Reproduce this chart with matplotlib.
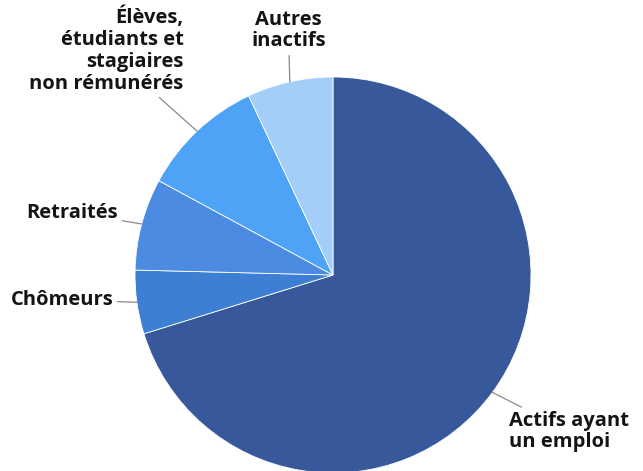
import numpy as np
import matplotlib.pyplot as plt

# shares (%), clockwise from 12 o'clock
labels = ['Actifs ayant\nun emploi', 'Chômeurs', 'Retraités',
          'Élèves,\nétudiants et\nstagiaires\nnon rémunérés', 'Autres\ninactifs']
shares = [70.2, 5.2, 7.5, 10.1, 7.0]
colors = ['#37599b', '#3d7fd3', '#4b8be2', '#4fa3f6', '#a2cef8']

# where each label sits (axes data units, pie radius = 1) and its alignment
label_pos = [(0.89, -0.79), (-1.11, -0.125), (-1.085, 0.315), (-0.755, 1.135), (-0.225, 1.235)]
label_ha = ['left', 'right', 'right', 'right', 'center']

plt.rcParams['font.family'] = ['Open Sans', 'DejaVu Sans']

fig = plt.figure(figsize=(6.43, 4.71), dpi=100)
ax = fig.add_axes([135 / 643, -2 / 471, 396 / 643, 396 / 471])

wedges, _ = ax.pie(shares, colors=colors, startangle=90, counterclock=False,
                   wedgeprops=dict(edgecolor='white', linewidth=0.6))
ax.set_xlim(-1, 1)
ax.set_ylim(-1, 1)
ax.set_aspect('equal')
ax.axis('off')

for w, lab, pos, ha in zip(wedges, labels, label_pos, label_ha):
    mid = np.deg2rad((w.theta1 + w.theta2) / 2)
    edge = (np.cos(mid), np.sin(mid))
    ax.annotate(lab, xy=edge, xytext=pos, ha=ha, va='center',
                fontsize=14.5, fontweight='bold', color='#141414',
                linespacing=1.12, annotation_clip=False,
                arrowprops=dict(arrowstyle='-', color='#8a8a8a', lw=0.9,
                                shrinkA=1, shrinkB=0))

fig.savefig('out.png', dpi=100)
